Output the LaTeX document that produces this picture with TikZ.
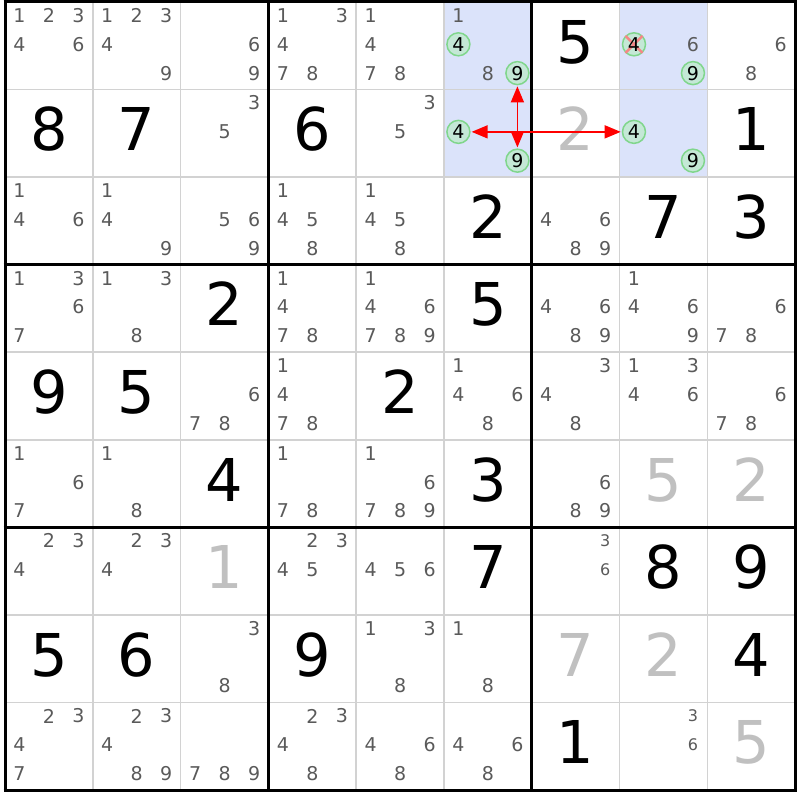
\documentclass[tikz,border=0pt]{standalone}
\usepackage{fontspec}
\setmainfont{DejaVu Sans}
\usetikzlibrary{arrows.meta}
\definecolor{cand}{RGB}{90,90,90}
\definecolor{placedgray}{RGB}{192,192,192}
\definecolor{thinline}{RGB}{210,210,210}
\definecolor{hl}{RGB}{219,227,250}
\definecolor{circfill}{RGB}{196,232,214}
\definecolor{circdraw}{RGB}{128,214,140}
\definecolor{xred}{RGB}{245,135,135}
\tikzset{
  candtext/.style={inner sep=0pt, anchor=center, text=cand, font=\fontsize{19}{19}\selectfont},
  smallcand/.style={candtext, font=\fontsize{16}{16}\selectfont},
  circled/.style={circle, draw=circdraw, fill=circfill, line width=1.5pt, minimum size=23pt, inner sep=0pt, text=black, font=\fontsize{19}{19}\selectfont},
  plaintext/.style={inner sep=0pt, anchor=center, text=black, font=\fontsize{19}{19}\selectfont},
  crossline/.style={draw=xred, line width=2.5pt},
  bigdigit/.style={inner sep=0pt, anchor=base, font=\fontsize{59}{59}\selectfont, text=black},
  placeddigit/.style={bigdigit, text=placedgray},
  link/.style={draw=red, line width=1.5pt, {Triangle[length=16pt,width=13pt]}-{Triangle[length=16pt,width=13pt]}, shorten <=1pt, shorten >=1pt},
  thingrid/.style={draw=thinline, line width=1.5pt},
  thickgrid/.style={draw=black, line width=3pt},
}
\newcommand\candset[4][candtext]{%
  \foreach \k in {#4}{%
    \pgfmathsetmacro\px{5+87.78*(#3-1)+14.5+29.5*mod(\k-1,3)}%
    \pgfmathsetmacro\py{2+87.56*(#2-1)+13.5+28.8*floor((\k-1)/3)}%
    \node[#1] (k#2#3\k) at (\px,\py) {\k};
  }}
\newcommand\bigd[4][bigdigit]{%
  \pgfmathsetmacro\px{5+87.78*(#3-1)+43.89}%
  \pgfmathsetmacro\py{2+87.56*(#2-1)+43.78+17.5}%
  \node[#1] (d#2#3) at (\px,\py) {#4};}
\begin{document}
\begin{tikzpicture}[x=1pt,y=-1pt]
\useasboundingbox (0,0) rectangle (800,800);
\fill[white] (0,0) rectangle (800,800);
% highlighted cells
\fill[hl] (443.9,2) rectangle (531.7,177.1);
\fill[hl] (619.5,2) rectangle (707.2,177.1);
% grid
\foreach \i in {1,2,4,5,7,8}{
  \draw[thingrid] ({5+87.78*\i},2) -- ({5+87.78*\i},790);
  \draw[thingrid] (5,{2+87.56*\i}) -- (795,{2+87.56*\i});
}
\foreach \i in {0,3,6,9}{
  \draw[thickgrid] ({5+87.78*\i},0.5) -- ({5+87.78*\i},791.5);
  \draw[thickgrid] (3.5,{2+87.56*\i}) -- (796.5,{2+87.56*\i});
}
% row 1
\candset{1}{1}{1,2,3,4,6}
\candset{1}{2}{1,2,3,4,9}
\candset{1}{3}{6,9}
\candset{1}{4}{1,3,4,7,8}
\candset{1}{5}{1,4,7,8}
\candset{1}{6}{1,8}
\candset[circled]{1}{6}{4,9}
\bigd{1}{7}{5}
\candset{1}{8}{6}
% eliminated candidate: circle, cross, then digit on top
\node[circled] (k184) at (634.0,44.3) {};
\draw[crossline] ([shift={(-8.5pt,-8.5pt)}]k184.center) -- ([shift={(8.5pt,8.5pt)}]k184.center);
\draw[crossline] ([shift={(-8.5pt,8.5pt)}]k184.center) -- ([shift={(8.5pt,-8.5pt)}]k184.center);
\node[plaintext] (t184) at (k184.center) {4};
\candset[circled]{1}{8}{9}
\candset{1}{9}{6,8}
% row 2
\bigd{2}{1}{8}
\bigd{2}{2}{7}
\candset{2}{3}{3,5}
\bigd{2}{4}{6}
\candset{2}{5}{3,5}
\candset[circled]{2}{6}{4,9}
\bigd[placeddigit]{2}{7}{2}
\candset[circled]{2}{8}{4,9}
\bigd{2}{9}{1}
% row 3
\candset{3}{1}{1,4,6}
\candset{3}{2}{1,4,9}
\candset{3}{3}{5,6,9}
\candset{3}{4}{1,4,5,8}
\candset{3}{5}{1,4,5,8}
\bigd{3}{6}{2}
\candset{3}{7}{4,6,8,9}
\bigd{3}{8}{7}
\bigd{3}{9}{3}
% row 4
\candset{4}{1}{1,3,6,7}
\candset{4}{2}{1,3,8}
\bigd{4}{3}{2}
\candset{4}{4}{1,4,7,8}
\candset{4}{5}{1,4,6,7,8,9}
\bigd{4}{6}{5}
\candset{4}{7}{4,6,8,9}
\candset{4}{8}{1,4,6,9}
\candset{4}{9}{6,7,8}
% row 5
\bigd{5}{1}{9}
\bigd{5}{2}{5}
\candset{5}{3}{6,7,8}
\candset{5}{4}{1,4,7,8}
\bigd{5}{5}{2}
\candset{5}{6}{1,4,6,8}
\candset{5}{7}{3,4,8}
\candset{5}{8}{1,3,4,6}
\candset{5}{9}{6,7,8}
% row 6
\candset{6}{1}{1,6,7}
\candset{6}{2}{1,8}
\bigd{6}{3}{4}
\candset{6}{4}{1,7,8}
\candset{6}{5}{1,6,7,8,9}
\bigd{6}{6}{3}
\candset{6}{7}{6,8,9}
\bigd[placeddigit]{6}{8}{5}
\bigd[placeddigit]{6}{9}{2}
% row 7
\candset{7}{1}{2,3,4}
\candset{7}{2}{2,3,4}
\bigd[placeddigit]{7}{3}{1}
\candset{7}{4}{2,3,4,5}
\candset{7}{5}{4,5,6}
\bigd{7}{6}{7}
\candset[smallcand]{7}{7}{3,6}
\bigd{7}{8}{8}
\bigd{7}{9}{9}
% row 8
\bigd{8}{1}{5}
\bigd{8}{2}{6}
\candset{8}{3}{3,8}
\bigd{8}{4}{9}
\candset{8}{5}{1,3,8}
\candset{8}{6}{1,8}
\bigd[placeddigit]{8}{7}{7}
\bigd[placeddigit]{8}{8}{2}
\bigd{8}{9}{4}
% row 9
\candset{9}{1}{2,3,4,7}
\candset{9}{2}{2,3,4,8,9}
\candset{9}{3}{7,8,9}
\candset{9}{4}{2,3,4,8}
\candset{9}{5}{4,6,8}
\candset{9}{6}{4,6,8}
\bigd{9}{7}{1}
\candset[smallcand]{9}{8}{3,6}
\bigd[placeddigit]{9}{9}{5}
% links
\draw[link] (k169) -- (k269);
\draw[link] (k264) -- (k284);
\end{tikzpicture}
\end{document}
